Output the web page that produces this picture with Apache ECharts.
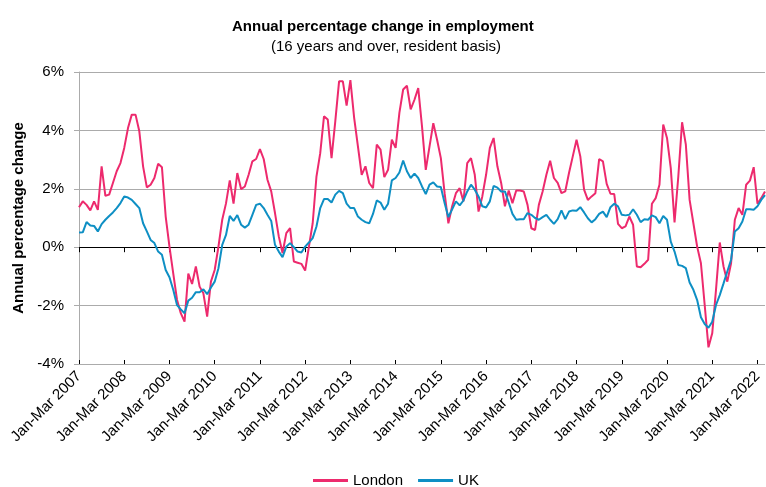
<!DOCTYPE html>
<html>
<head>
<meta charset="utf-8">
<script src="https://cdn.jsdelivr.net/npm/echarts@6/dist/echarts.min.js"></script>
<style>
  html, body { margin: 0; padding: 0; background: #fff; }
  #chart { width: 766px; height: 487px; }
</style>
</head>
<body>
<div id="chart"></div>
<script>
// Rolling-quarter labels, Jan-Mar 2007 to Mar-May 2022
var monthNames = ['Jan','Feb','Mar','Apr','May','Jun','Jul','Aug','Sep','Oct','Nov','Dec'];
var categories = [];
for (var i = 0; i < 183; i++) {
  var m = i % 12;
  var yr = 2007 + Math.floor(i / 12) + (m + 2 >= 12 ? 1 : 0);
  categories.push(monthNames[m] + '-' + monthNames[(m + 2) % 12] + ' ' + yr);
}

var london = [
  1.37, 1.57, 1.45, 1.26, 1.57, 1.28, 2.77, 1.76, 1.80, 2.20, 2.60, 2.88,
  3.40, 4.08, 4.54, 4.54, 3.97, 2.77, 2.05, 2.14, 2.37, 2.86, 2.74, 1.05,
  0.02, -0.90, -1.80, -2.26, -2.55, -0.90, -1.26, -0.66, -1.35, -1.58, -2.38, -1.18,
  -0.78, 0.02, 0.94, 1.50, 2.29, 1.49, 2.54, 1.99, 2.08, 2.48, 2.94, 3.02,
  3.36, 3.02, 2.31, 1.91, 1.17, 0.37, -0.20, 0.48, 0.65, -0.49, -0.53, -0.57,
  -0.80, 0.02, 0.82, 2.42, 3.22, 4.48, 4.37, 3.05, 4.32, 5.68, 5.68, 4.85,
  5.72, 4.43, 3.45, 2.48, 2.77, 2.20, 2.02, 3.51, 3.34, 2.40, 2.65, 3.68,
  3.40, 4.60, 5.40, 5.53, 4.72, 5.05, 5.45, 4.14, 2.65, 3.45, 4.25, 3.68,
  3.05, 1.85, 0.82, 1.40, 1.85, 2.02, 1.57, 2.88, 3.05, 2.48, 1.22, 1.74,
  2.48, 3.40, 3.74, 2.77, 2.20, 1.40, 1.94, 1.51, 1.94, 1.94, 1.91, 1.45,
  0.65, 0.59, 1.45, 1.91, 2.48, 2.96, 2.37, 2.20, 1.85, 1.91, 2.54, 3.11,
  3.68, 3.11, 1.97, 1.62, 1.74, 1.85, 3.02, 2.94, 2.17, 1.83, 1.82, 0.80,
  0.65, 0.71, 1.05, 0.77, -0.66, -0.69, -0.57, -0.43, 1.49, 1.68, 2.14, 4.20,
  3.74, 2.71, 0.85, 2.42, 4.28, 3.51, 1.62, 0.82, 0.02, -0.55, -1.98, -3.43,
  -2.95, -1.46, 0.16, -0.66, -1.18, -0.55, 0.94, 1.34, 1.11, 2.14, 2.28, 2.74,
  1.49, 1.68, 1.91
];

var uk = [
  0.50, 0.51, 0.86, 0.74, 0.73, 0.54, 0.79, 0.94, 1.07, 1.19, 1.34, 1.51,
  1.74, 1.70, 1.62, 1.48, 1.34, 0.82, 0.54, 0.25, 0.14, -0.15, -0.26, -0.78,
  -1.03, -1.46, -1.98, -2.13, -2.26, -1.83, -1.73, -1.54, -1.54, -1.44, -1.61, -1.38,
  -1.18, -0.72, 0.08, 0.42, 1.07, 0.90, 1.10, 0.77, 0.67, 0.77, 1.11, 1.45,
  1.49, 1.34, 1.11, 0.90, 0.08, -0.15, -0.34, 0.02, 0.14, 0.00, -0.15, -0.18,
  0.02, 0.16, 0.31, 0.71, 1.34, 1.65, 1.65, 1.53, 1.80, 1.93, 1.85, 1.49,
  1.34, 1.34, 1.05, 0.94, 0.86, 0.82, 1.14, 1.60, 1.53, 1.28, 1.49, 2.29,
  2.37, 2.56, 2.97, 2.60, 2.37, 2.52, 2.37, 2.08, 1.82, 2.14, 2.22, 2.08,
  2.06, 1.51, 1.03, 1.30, 1.57, 1.43, 1.60, 1.91, 2.14, 1.97, 1.74, 1.40,
  1.36, 1.57, 2.10, 2.04, 1.91, 1.91, 1.53, 1.14, 0.94, 0.96, 0.96, 1.17,
  1.11, 1.00, 0.94, 1.03, 1.11, 0.94, 0.80, 0.96, 1.26, 0.96, 1.22, 1.26,
  1.25, 1.37, 1.19, 0.99, 0.85, 0.96, 1.14, 1.22, 1.03, 1.37, 1.49, 1.40,
  1.11, 1.09, 1.11, 1.30, 1.11, 0.86, 0.96, 0.94, 1.09, 1.03, 0.82, 1.07,
  0.94, 0.19, -0.15, -0.61, -0.64, -0.72, -1.21, -1.46, -1.81, -2.40, -2.63, -2.76,
  -2.55, -1.98, -1.64, -1.24, -0.83, -0.43, 0.54, 0.65, 0.88, 1.30, 1.30, 1.28,
  1.40, 1.62, 1.78
];

var yTicks = { min: -4, max: 6, interval: 2 };

var chart = echarts.init(document.getElementById('chart'), null, { renderer: 'canvas' });
var font = "'Liberation Sans', Arial, sans-serif";
var grey = '#ababab';

chart.setOption({
  animation: false,
  backgroundColor: '#ffffff',
  textStyle: { fontFamily: font, color: '#000' },
  title: [
    { text: 'Annual percentage change in employment', left: 227, top: 14,
      textStyle: { fontFamily: font, fontSize: 15, fontWeight: 'bold', color: '#000' } },
    { text: '(16 years and over, resident basis)', left: 266, top: 34,
      textStyle: { fontFamily: font, fontSize: 15, fontWeight: 'normal', color: '#000' } }
  ],
  legend: {
    data: ['London', 'UK'],
    left: 308, top: 468,
    icon: 'rect', itemWidth: 35, itemHeight: 3, itemGap: 15,
    textStyle: { fontFamily: font, fontSize: 15, color: '#000' }
  },
  grid: { left: 79, right: 1, top: 72, bottom: 123, containLabel: false },
  xAxis: [
    {
      type: 'category', data: categories, boundaryGap: false, position: 'bottom',
      axisLine: { show: false, onZero: false },
      axisTick: { show: false },
      axisLabel: { interval: 11, rotate: 45, margin: 10, fontFamily: font, fontSize: 15, color: '#000' },
      splitLine: { show: false }
    },
    {
      type: 'category', data: categories, boundaryGap: false, position: 'bottom',
      axisLine: { show: true, onZero: true, lineStyle: { color: '#000', width: 1 } },
      axisTick: { show: true, interval: 11, length: 5, lineStyle: { color: '#000' } },
      axisLabel: { show: false },
      splitLine: { show: false }
    },
    {
      type: 'category', data: categories, boundaryGap: false, position: 'bottom',
      axisLine: { show: false, onZero: true },
      axisTick: { show: true, inside: true, interval: 11, length: 4, lineStyle: { color: '#000' } },
      axisLabel: { show: false },
      splitLine: { show: false }
    }
  ],
  yAxis: {
    type: 'value', min: yTicks.min, max: yTicks.max, interval: yTicks.interval,
    name: 'Annual percentage change', nameLocation: 'middle', nameGap: 42,
    nameTextStyle: { fontFamily: font, fontSize: 15, fontWeight: 'bold', color: '#000' },
    axisLine: { show: true, lineStyle: { color: grey } },
    axisTick: { show: true, length: 5, lineStyle: { color: grey } },
    axisLabel: { formatter: '{value}%', margin: 15, fontFamily: font, fontSize: 15, color: '#000' },
    splitLine: { show: true, lineStyle: { color: grey, width: 1 } }
  },
  series: [
    { name: 'London', type: 'line', data: london, xAxisIndex: 0, showSymbol: false, symbol: 'none',
      lineStyle: { color: '#ed2a6d', width: 2 }, itemStyle: { color: '#ed2a6d' }, z: 3 },
    { name: 'UK', type: 'line', data: uk, xAxisIndex: 0, showSymbol: false, symbol: 'none',
      lineStyle: { color: '#0e8fc4', width: 2 }, itemStyle: { color: '#0e8fc4' }, z: 4 }
  ]
});
</script>
</body>
</html>
